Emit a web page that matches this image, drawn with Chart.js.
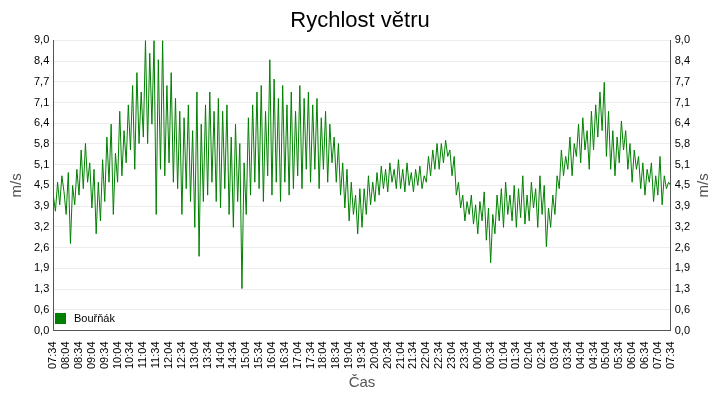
<!DOCTYPE html>
<html><head><meta charset="utf-8">
<script src="https://cdn.jsdelivr.net/npm/chart.js@4"></script>
<style>body{margin:0;background:#fff}#w{position:relative;width:720px;height:400px}
#lg{position:absolute;left:55px;top:312px;font:11px Arial,"Liberation Sans",sans-serif;color:#000;display:flex;align-items:center}
#lg span{display:inline-block;width:11px;height:11px;background:#008000;margin-right:8px}</style>
</head><body><div id="w"><canvas id="c" width="720" height="400"></canvas><div id="lg"><span></span>Bouřňák</div></div>
<script>
const timeLabels=["07:34","08:04","08:34","09:04","09:34","10:04","10:34","11:04","11:34","12:04","12:34","13:04","13:34","14:04","14:34","15:04","15:34","16:04","16:34","17:04","17:34","18:04","18:34","19:04","19:34","20:04","20:34","21:04","21:34","22:04","22:34","23:04","23:34","00:04","00:34","01:04","01:34","02:04","02:34","03:04","03:34","04:04","04:34","05:04","05:34","06:04","06:34","07:04","07:34"];
const yTicks=["0,0","0,6","1,3","1,9","2,6","3,2","3,9","4,5","5,1","5,8","6,4","7,1","7,7","8,4","9,0"];
const windSpeed=[
4.2,3.7,4.6,3.9,4.8,4.3, 3.6,4.9,2.7,4.5,3.9,5.0, 4.2,5.6,4.4,5.8,4.6,5.2, 3.8,5.0,3.0,4.6,3.4,5.3,
4.0,6.0,4.6,6.4,3.6,5.5, 4.6,6.8,4.8,6.2,5.2,7.0, 5.6,7.6,5.0,8.0,5.8,7.4, 6.0,9.0,5.8,8.6,6.4,9.0,
3.6,8.4,5.0,9.0,4.8,7.6, 5.2,8.0,4.6,7.2,4.4,6.8, 3.6,6.6,4.4,7.0,4.0,6.2, 3.2,7.4,2.3,6.4,4.0,7.0,
4.2,7.4,4.6,6.8,4.0,7.2, 3.8,6.8,4.4,7.0,3.6,6.0, 3.2,6.4,4.0,5.8,1.3,5.2, 3.6,6.6,4.2,7.0,4.6,7.4,
4.4,7.6,4.0,6.8,4.8,8.4, 4.2,7.8,4.6,7.2,4.0,7.6, 4.6,7.0,4.2,7.4,4.4,6.8, 4.8,7.6,4.4,7.2,5.0,7.4,
4.6,7.0,5.0,7.2,4.4,6.6, 5.0,6.8,4.6,6.4,5.2,6.0, 4.6,5.8,4.2,5.2,3.8,5.0, 3.4,4.6,3.6,4.2,3.0,4.4,
3.2,4.4,3.6,4.8,3.9,4.6, 4.0,4.9,4.2,5.1,4.4,5.0, 4.3,5.2,4.6,5.0,4.4,5.3, 4.4,5.0,4.3,5.2,4.5,4.9,
4.3,5.0,4.5,5.1,4.4,4.8, 4.6,5.4,4.8,5.6,5.0,5.8, 5.0,5.8,5.2,5.9,5.4,5.6, 4.8,5.4,4.2,4.6,3.8,4.2,
3.4,4.0,3.6,4.2,3.3,3.9, 3.0,4.0,3.4,4.3,2.8,3.8, 2.1,3.6,3.0,4.2,3.4,4.4, 3.2,4.6,3.6,4.2,3.4,4.5,
3.2,4.4,3.5,4.8,3.3,4.2, 3.4,4.6,3.8,4.4,3.2,4.8, 3.6,4.5,2.6,3.8,3.2,4.2, 3.6,4.8,4.4,5.6,4.8,5.4,
5.0,6.0,4.8,5.8,5.4,6.4, 5.2,6.6,5.6,6.2,5.0,6.8, 5.6,7.0,6.0,7.4,6.2,7.7, 5.4,6.8,5.0,6.2,4.8,6.0,
5.2,6.5,5.6,6.2,5.0,5.8, 4.6,5.6,5.0,5.4,4.4,5.2, 4.2,5.0,4.6,5.2,4.0,4.8, 4.2,5.4,3.9,4.8,4.4,4.6,
4.5];
const stepMin=5;
const pts=windSpeed.map((v,i)=>({x:i*stepMin,y:v}));
const F='Arial, "Liberation Sans", sans-serif';
const yAxis=(pos)=>({type:'linear',position:pos,min:0,max:9,afterBuildTicks:a=>{a.ticks=yTicks.map((t,i)=>({value:i*9/14}));},
 ticks:{callback:(v,i)=>yTicks[i],font:{size:11,family:F},color:'#000',padding:4},
 grid:{display:pos==='left',color:'#ececec',drawTicks:false},border:{color:'#555'},
 afterFit:s=>{if(pos==='right')s.width+=22;},
 title:{display:pos==='left',text:'m/s',font:{size:15,family:F},color:'#555'}});
const rightTitle={id:'rt',afterDraw(c){const s=c.scales.y2,x=c.ctx;x.save();x.translate(s.right-12,(s.top+s.bottom)/2);x.rotate(-Math.PI/2);
 x.font='15px '+F;x.fillStyle='#555';x.textAlign='center';x.textBaseline='middle';x.fillText('m/s',0,0);x.restore();}};
new Chart(document.getElementById('c'),{type:'line',
 data:{datasets:[{data:pts,borderColor:'#008000',borderWidth:1,pointRadius:0,tension:0,fill:false}]},
 plugins:[rightTitle],
 options:{responsive:false,animation:false,layout:{padding:{left:4,right:4,top:0,bottom:4}},
  plugins:{legend:{display:false},tooltip:{enabled:false},
   title:{display:true,text:'Rychlost větru',font:{size:22,family:F,weight:'normal'},color:'#000',padding:{top:8,bottom:6}}},
  scales:{x:{type:'linear',min:0,max:1440,afterBuildTicks:a=>{a.ticks=timeLabels.map((t,i)=>({value:i*30}));},
    ticks:{callback:(v,i)=>timeLabels[i],maxRotation:90,minRotation:90,autoSkip:false,font:{size:11,family:F},color:'#000'},
    grid:{display:false},border:{color:'#555'},
    title:{display:true,text:'Čas',font:{size:15,family:F},color:'#555',padding:{top:2}}},
   y:yAxis('left'),y2:yAxis('right')}}});
</script></body></html>
